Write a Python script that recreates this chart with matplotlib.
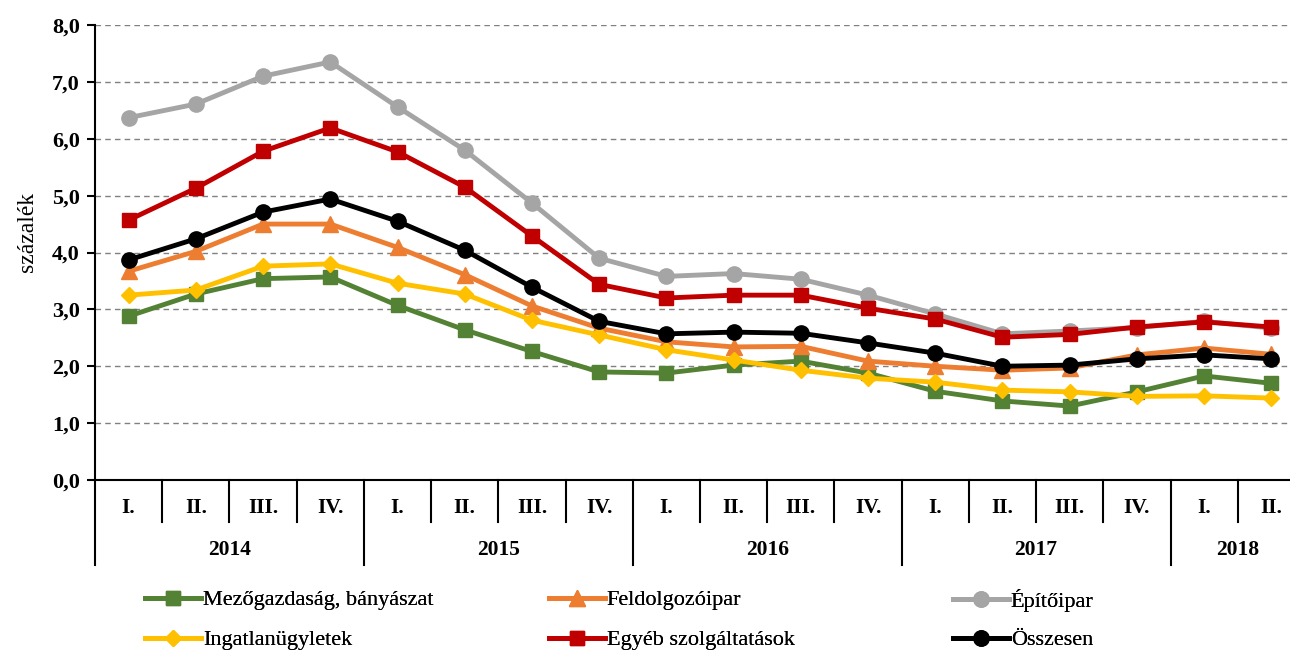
import matplotlib
matplotlib.use("Agg")
import matplotlib.pyplot as plt
import matplotlib.transforms as mtransforms
from matplotlib.ticker import FuncFormatter

plt.rcParams['font.family'] = ['Liberation Serif', 'DejaVu Serif']

# Data
years = ['2014', '2015', '2016', '2017', '2018']
quarters = ['I.', 'II.', 'III.', 'IV.'] * 4 + ['I.', 'II.']

mezogazdasag = [2.88, 3.27, 3.54, 3.57, 3.07, 2.64, 2.26, 1.90, 1.88, 2.02, 2.09, 1.88,
                1.56, 1.39, 1.30, 1.55, 1.83, 1.70]
feldolgozo = [3.67, 4.02, 4.50, 4.50, 4.09, 3.61, 3.06, 2.67, 2.43, 2.34, 2.35, 2.09,
              2.00, 1.93, 1.97, 2.20, 2.32, 2.21]
epitoipar = [6.37, 6.61, 7.10, 7.35, 6.56, 5.80, 4.87, 3.90, 3.58, 3.63, 3.53, 3.25,
             2.92, 2.57, 2.62, 2.68, 2.79, 2.67]
ingatlan = [3.25, 3.34, 3.76, 3.80, 3.46, 3.27, 2.81, 2.55, 2.29, 2.11, 1.93, 1.79,
            1.72, 1.58, 1.55, 1.47, 1.48, 1.44]
egyeb = [4.57, 5.13, 5.78, 6.19, 5.77, 5.15, 4.29, 3.44, 3.20, 3.25, 3.25, 3.02,
         2.83, 2.51, 2.56, 2.69, 2.78, 2.69]
osszesen = [3.87, 4.24, 4.71, 4.94, 4.55, 4.04, 3.39, 2.79, 2.57, 2.60, 2.58, 2.41,
            2.23, 2.00, 2.02, 2.13, 2.20, 2.13]

series = [
    ('Mezőgazdaság, bányászat', mezogazdasag, '#548235', 's', 10),
    ('Feldolgozóipar', feldolgozo, '#ED7D31', '^', 11),
    ('Építőipar', epitoipar, '#A5A5A5', 'o', 11),
    ('Ingatlanügyletek', ingatlan, '#FFC000', 'D', 8),
    ('Egyéb szolgáltatások', egyeb, '#C00000', 's', 10),
    ('Összesen', osszesen, '#000000', 'o', 11),
]

fig = plt.figure(figsize=(12.9, 6.53), dpi=100)
ax = fig.add_axes([95 / 1290, (653 - 480) / 653, 1210 / 1290, 455 / 653])

x = list(range(len(quarters)))
handles = []
for name, vals, color, marker, ms in series:
    h, = ax.plot(x, vals, color=color, lw=3.5, marker=marker, markersize=ms,
                 label=name, zorder=3)
    handles.append(h)

ax.set_xlim(-0.5, len(quarters) - 0.5)
ax.set_ylim(0, 8)
ax.set_yticks(range(0, 9))
ax.yaxis.set_major_formatter(FuncFormatter(lambda v, p: f'{v:.1f}'.replace('.', ',')))
for lab in ax.get_yticklabels():
    lab.set_fontweight('bold')
ax.tick_params(axis='y', labelsize=16, length=6, width=1.5, direction='out', pad=5)
ax.set_ylabel('százalék', fontsize=17)
ax.yaxis.set_label_coords(-0.047, (480 - 232) / 455)
ax.grid(axis='y', color='#808080', linestyle=(0, (4, 3)), lw=1)
ax.set_axisbelow(True)

for s in ['top', 'right']:
    ax.spines[s].set_visible(False)
ax.spines['left'].set_linewidth(1.5)
ax.spines['bottom'].set_linewidth(1.5)
ax.set_xticks([])

# two-level category axis
trans = mtransforms.blended_transform_factory(ax.transData, ax.transAxes)
q_bottom = -42 / 455
y_bottom = -85 / 455
for i, q in enumerate(quarters):
    ax.text(i, -28 / 455, q, transform=trans, ha='center', va='center',
            fontsize=15.5, fontweight='bold')
for i in range(len(quarters) + 1):
    depth = y_bottom if i % 4 == 0 else q_bottom
    ax.plot([i - 0.5, i - 0.5], [0, depth], transform=trans, color='black',
            lw=1.5, clip_on=False)
for k, yr in enumerate(years):
    start = k * 4
    end = min(start + 4, len(quarters))
    ax.text((start + end - 1) / 2, -70 / 455, yr, transform=trans, ha='center',
            va='center', fontsize=15.5, fontweight='bold')

# legend: 3 columns x 2 rows, one entry per legend for exact placement
col_x = [145, 549, 953]
row_y = [600, 640]
for idx, h in enumerate(handles):
    r, c = divmod(idx, 3)
    leg = fig.legend(handles=[h], loc='center left',
                     bbox_to_anchor=(col_x[c] / 1290, (653 - row_y[r]) / 653),
                     frameon=False, fontsize=16, handlelength=2.5,
                     handletextpad=0.1, borderaxespad=0, borderpad=0)
    fig.add_artist(leg)

fig.savefig('out.png', dpi=100)
